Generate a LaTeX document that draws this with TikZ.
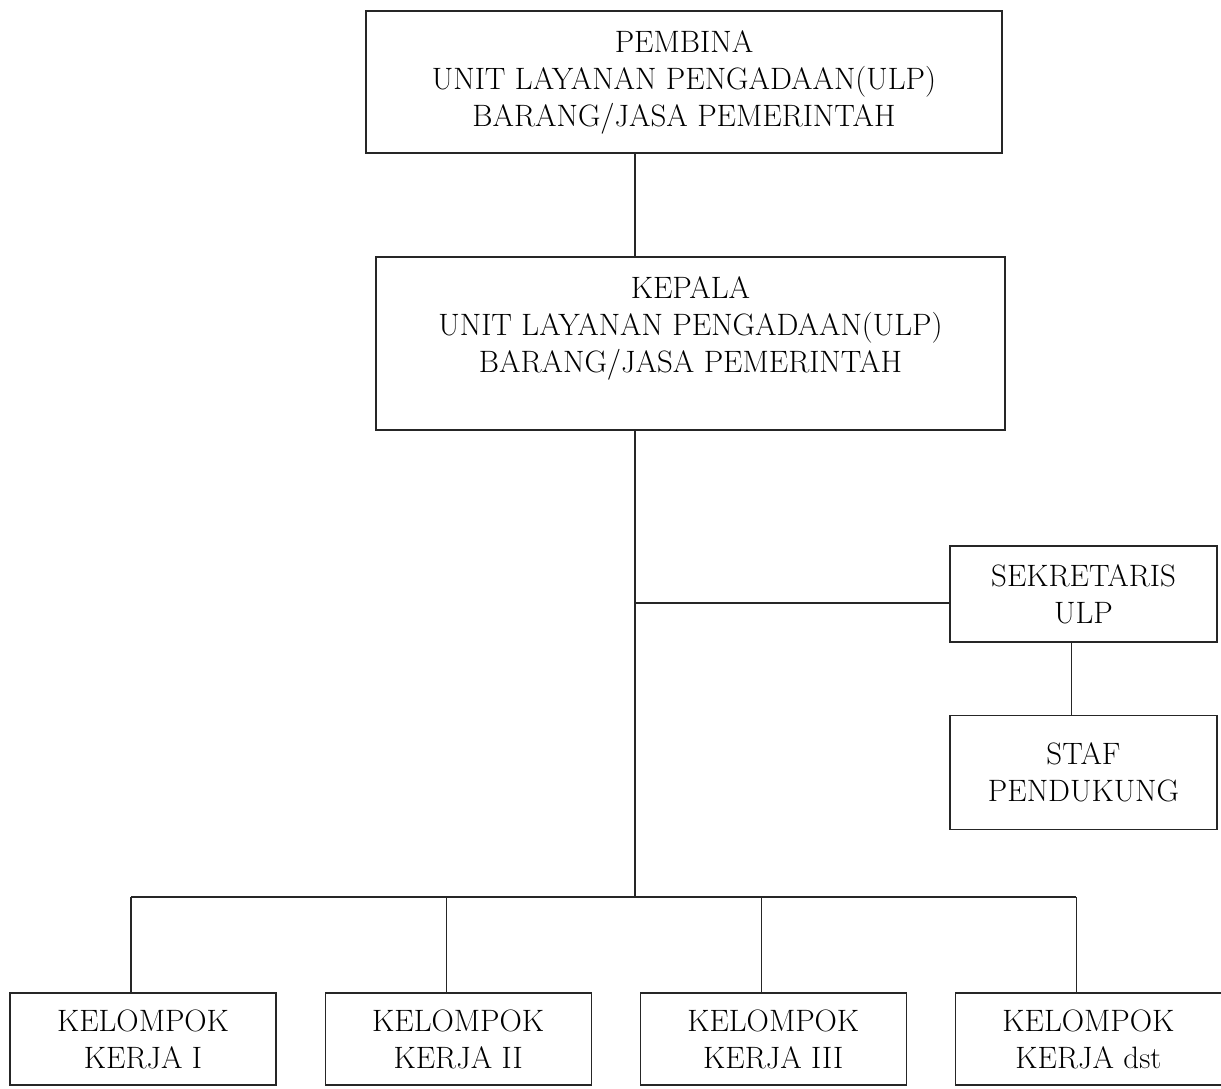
\documentclass[tikz,border=0pt]{standalone}
\usepackage{tikz}
\usetikzlibrary{positioning}

\begin{document}
\begin{tikzpicture}[
    node distance=1.2cm,
    orgbox/.style={
        draw=black!85,
        line width=0.8pt,
        fill=white,
        align=center,
        inner sep=0pt,
        font=\fontsize{22}{26.3}\selectfont
    },
    bigbox/.style={orgbox, minimum width=15.9cm},
    sidebox/.style={orgbox, minimum width=6.675cm},
    workbox/.style={orgbox, minimum width=6.65cm, minimum height=2.3cm},
    link/.style={draw=black!85, line width=0.8pt},
    ]

    \useasboundingbox (0,0) rectangle (30.525,-27.225);

    \node[bigbox, minimum height=3.55cm] (pembina) at (17.1,-2.05)
        {PEMBINA\\UNIT LAYANAN PENGADAAN(ULP)\\BARANG/JASA PEMERINTAH};
    \node[bigbox, minimum width=15.725cm, minimum height=4.325cm] (kepala) at (17.2625,-8.5875)
        {KEPALA\\UNIT LAYANAN PENGADAAN(ULP)\\BARANG/JASA PEMERINTAH\\\mbox{}};
    \node[sidebox, minimum height=2.4cm] (sekretaris) at (27.0875,-14.85) {SEKRETARIS\\ULP};
    \node[sidebox, minimum height=2.85cm, below=1.8cm of sekretaris] (staf) {STAF\\PENDUKUNG};

    \node[workbox] (kk1) at (3.575,-25.975) {KELOMPOK\\KERJA I};
    \node[workbox, right=of kk1] (kk2) {KELOMPOK\\KERJA II};
    \node[workbox, right=of kk2] (kk3) {KELOMPOK\\KERJA III};
    \node[workbox, right=of kk3] (kk4) {KELOMPOK\\KERJA dst};

    % trunk and bus
    \coordinate (spine) at (15.875,0);
    \coordinate (bus) at (0,-22.425);

    \path[link] (pembina.south -| spine) -- (kepala.north -| spine);
    \path[link] (kepala.south -| spine) -- (spine |- bus);
    \path[link] ([yshift=-0.225cm]sekretaris.west -| spine) -- ([yshift=-0.225cm]sekretaris.west);
    \path[link] ([xshift=-0.3cm]sekretaris.south) -- ([xshift=-0.3cm]staf.north);

    \path[link] ([xshift=-0.3cm]kk1.north |- bus) -- ([xshift=-0.3cm]kk4.north |- bus);
    \foreach \k in {kk1,kk2,kk3,kk4}
        \path[link] ([xshift=-0.3cm]\k.north |- bus) -- ([xshift=-0.3cm]\k.north);
\end{tikzpicture}
\end{document}
